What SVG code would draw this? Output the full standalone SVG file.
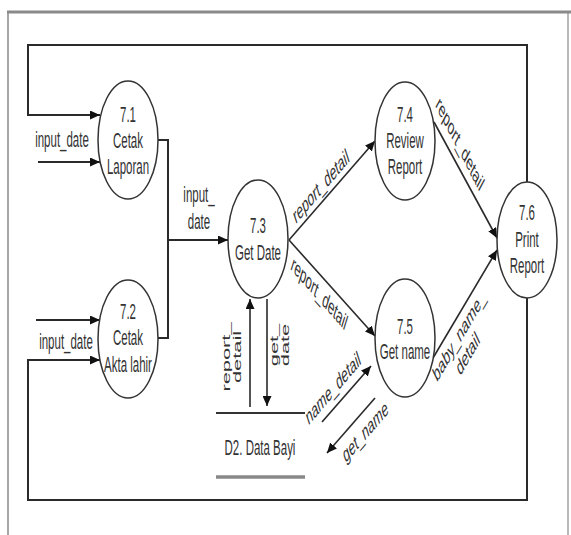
<svg xmlns="http://www.w3.org/2000/svg" width="571" height="535" viewBox="0 0 571 535">
<style>
.bg{fill:#fff}
.frame{stroke:#8a8a8a;fill:none}
.node{fill:#fff;stroke:#333;stroke-width:1.5}
.ln{fill:none;stroke:#2a2a2a;stroke-width:1.6}
.loop{fill:none;stroke:#2a2a2a;stroke-width:2}
.t{font-family:"Liberation Sans",Arial,sans-serif;font-size:11.5px;fill:#333;text-anchor:middle}
</style>
<defs>
<marker id="ah" markerUnits="userSpaceOnUse" markerWidth="11" markerHeight="9" refX="10" refY="4.5" orient="auto" viewBox="0 0 11 9">
<path d="M0,0 L10,4.5 L0,9 z" fill="#111"/>
</marker>
</defs>
<rect class="bg" x="0" y="0" width="571" height="535"/>
<g id="frame">
<line class="frame" x1="7" y1="12" x2="571" y2="12" stroke-width="3"/>
<line class="frame" x1="8" y1="11" x2="8" y2="535" stroke-width="1.5"/>
<line class="frame" x1="568" y1="11" x2="568" y2="535" stroke-width="1.2"/>
</g>
<g id="connectors">
<path class="loop" d="M527,182 V45 H28 V115 H100" marker-end="url(#ah)"/>
<path class="loop" d="M527,298 V500 H28 V360 H100" marker-end="url(#ah)"/>
<path class="loop" d="M38,162 H100" marker-end="url(#ah)"/>
<path class="loop" d="M36,320 H100" marker-end="url(#ah)"/>
<path class="loop" d="M158,140 H168 V338 H158"/>
<path class="loop" d="M168,240 H228" marker-end="url(#ah)"/>
<path class="ln" d="M289,240 L375,141" marker-end="url(#ah)"/>
<path class="ln" d="M289,240 L375,336" marker-end="url(#ah)"/>
<path class="ln" d="M434,122 L497,238" marker-end="url(#ah)"/>
<path class="ln" d="M433,358 L497,250" marker-end="url(#ah)"/>
<path class="ln" d="M250,407 V299" marker-end="url(#ah)"/>
<path class="ln" d="M267,299 V406" marker-end="url(#ah)"/>
<path class="ln" d="M322,422 L371,366" marker-end="url(#ah)"/>
<path class="ln" d="M375,398 L327,453" marker-end="url(#ah)"/>
</g>
<g id="labels">
<text class="t" transform="translate(62,147) scale(1,1.9)">input_date</text>
<text class="t" transform="translate(66,349) scale(1,1.9)">input_date</text>
<text class="t" transform="translate(199,202) scale(1,1.9)">input_</text>
<text class="t" transform="translate(199,229) scale(1,1.9)">date</text>
<text class="t" transform="translate(325,199) scale(1,1.9) rotate(-31.5)" y="-4">report_detail</text>
<text class="t" transform="translate(324,278.4) scale(1,1.9) rotate(30.7)" y="13">report_detail</text>
<text class="t" transform="translate(453,157) scale(1,1.9) rotate(45.5)" y="-6">report_detail</text>
<g transform="translate(453.4,323) scale(1,1.9) rotate(-42)">
<text class="t" y="12.5">baby_name_</text>
<text class="t" y="25.5">detail</text>
</g>
<g transform="translate(230,357) scale(1,1.9) rotate(-90)">
<text class="t" y="0">report_</text>
<text class="t" y="11.5">detail</text>
</g>
<g transform="translate(278,345) scale(1,1.9) rotate(-90)">
<text class="t" y="0">get_</text>
<text class="t" y="11.5">date</text>
</g>
<text class="t" transform="translate(338,403.3) scale(1,1.9) rotate(-31.6)" y="-5.5">name_detail</text>
<text class="t" transform="translate(360,415.2) scale(1,1.9) rotate(-31.5)" y="14">get_name</text>
</g>
<g id="n71">
<ellipse class="node" cx="128" cy="140" rx="30" ry="59"/>
<text class="t" transform="translate(128,122) scale(1,1.9)">7.1</text>
<text class="t" transform="translate(128,148) scale(1,1.9)">Cetak</text>
<text class="t" transform="translate(128,174) scale(1,1.9)">Laporan</text>
</g>
<g id="n72">
<ellipse class="node" cx="128" cy="339" rx="30" ry="59"/>
<text class="t" transform="translate(128,319) scale(1,1.9)">7.2</text>
<text class="t" transform="translate(128,345) scale(1,1.9)">Cetak</text>
<text class="t" transform="translate(128,372) scale(1,1.9)">Akta lahir</text>
</g>
<g id="n73">
<ellipse class="node" cx="258" cy="239" rx="30" ry="59"/>
<text class="t" transform="translate(258,233) scale(1,1.9)">7.3</text>
<text class="t" transform="translate(258,260) scale(1,1.9)">Get Date</text>
</g>
<g id="n74">
<ellipse class="node" cx="405" cy="141" rx="30" ry="59"/>
<text class="t" transform="translate(405,122) scale(1,1.9)">7.4</text>
<text class="t" transform="translate(405,148) scale(1,1.9)">Review</text>
<text class="t" transform="translate(405,174) scale(1,1.9)">Report</text>
</g>
<g id="n75">
<ellipse class="node" cx="405" cy="338" rx="30" ry="59"/>
<text class="t" transform="translate(405,334) scale(1,1.9)">7.5</text>
<text class="t" transform="translate(405,359) scale(1,1.9)">Get name</text>
</g>
<g id="n76">
<ellipse class="node" cx="527" cy="240" rx="30" ry="58"/>
<text class="t" transform="translate(527,220) scale(1,1.9)">7.6</text>
<text class="t" transform="translate(527,247) scale(1,1.9)">Print</text>
<text class="t" transform="translate(527,273) scale(1,1.9)">Report</text>
</g>
<g id="store">
<line x1="216" y1="413" x2="305" y2="413" stroke="#333" stroke-width="2"/>
<line x1="216" y1="477" x2="305" y2="477" stroke="#888" stroke-width="3.5"/>
<text class="t" transform="translate(260,455) scale(1,1.9)">D2. Data Bayi</text>
</g>
</svg>
